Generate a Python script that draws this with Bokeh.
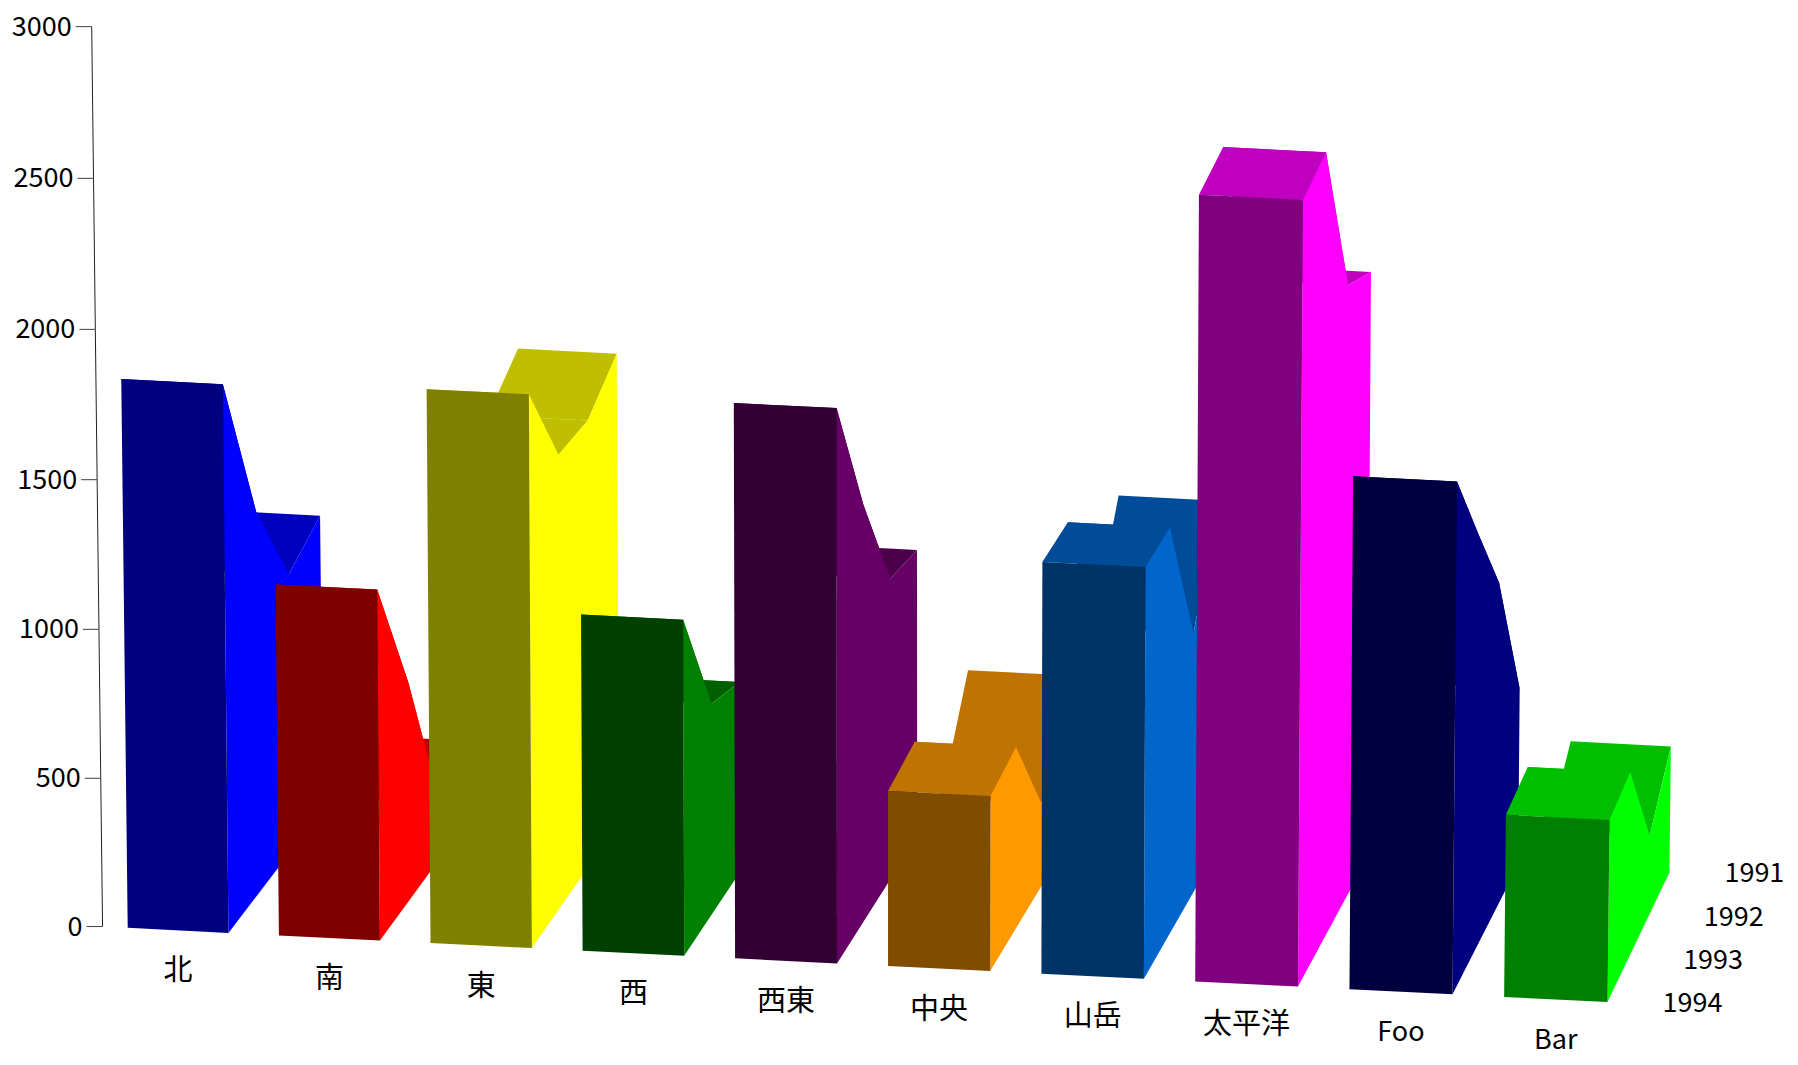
from bokeh.embed import file_html
from bokeh.resources import INLINE
from bokeh.plotting import figure
from bokeh.models import Range1d
from bokeh.core.properties import value

categories = ["北", "南", "東", "西", "西東", "中央", "山岳", "太平洋", "Foo", "Bar"]
years = ["1994", "1993", "1992", "1991"]
v1994 = [1839, 1180, 1856, 1130, 1861, 590, 1383, 2627, 1720, 614]
v1993 = [1277, 727, 1516, 708, 1399, 613, 1373, 2643, 1404, 629]
v1992 = [928, 180, 1491, 640, 1011, 280, 876, 2062, 1095, 270]
v1991 = [987, 253, 1575, 480, 966, 569, 1178, 1964, 595, 425]
series = [v1994, v1993, v1992, v1991]
y_ticks = [0, 500, 1000, 1500, 2000, 2500, 3000]
side_colors = ["#0000ff", "#ff0000", "#ffff00", "#008000", "#660066",
               "#ff9900", "#0066cc", "#ff00ff", "#000080", "#00ff00"]

SCALE = 1798 / 1568
FONT = "Noto Sans CJK JP"


def project(c, d, v):
    band = min(int(c), 9)
    xf = 89 + 131.6 * c + 0.19 * c * c
    yf = 807.6 + 0.0502 * (xf - 89)
    xb = 89 + 131.6 * (band + 0.833) + 0.19 * (band + 0.833) ** 2
    dx = 27.5 - (xb - 199) * 0.0079 + (5 / 6 - (c - band)) * 1.5
    dy = -36.0 - (xb - 199) * 0.0014
    lean = (xf - 774) * 4.6e-6 * v
    h = 0.258 * v + 1.2e-6 * v * v
    return (xf + d * dx + lean) * SCALE, (yf + d * dy - h) * SCALE


def shade(col, f):
    r, g, b = int(col[1:3], 16), int(col[3:5], 16), int(col[5:7], 16)
    return "#%02x%02x%02x" % (round(r * f), round(g * f), round(b * f))


p = figure(width=1790, height=1057, toolbar_location=None, output_backend="svg",
           x_range=Range1d(0, 1790), y_range=Range1d(1057, 0), min_border=0)
p.xaxis.visible = False
p.yaxis.visible = False
p.grid.visible = False
p.outline_line_color = None

xs, ys, fills = [], [], []


def face(pts, col):
    xs.append([q[0] for q in pts])
    ys.append([q[1] for q in pts])
    fills.append(col)


for i, col in enumerate(side_colors):
    cl, cr = i + 1 / 6, i + 5 / 6
    vals = [s[i] for s in series]
    for d in (2, 1, 0):
        a, b = vals[d], vals[d + 1]
        face([project(cl, d, a), project(cr, d, a), project(cr, d + 1, b), project(cl, d + 1, b)],
             shade(col, 0.75))
    face([project(cr, 0, 0)] + [project(cr, d, vals[d]) for d in range(4)] + [project(cr, 3, 0)], col)
    face([project(cl, 0, 0), project(cr, 0, 0), project(cr, 0, vals[0]), project(cl, 0, vals[0])],
         shade(col, 0.5))

p.patches(xs, ys, fill_color=fills, line_color=None)

# tilted value axis
ax = [project(0, 0, t) for t in y_ticks]
p.line([q[0] for q in ax], [q[1] for q in ax], line_color="#202020", line_width=1)
p.multi_line([[q[0] - 16, q[0]] for q in ax], [[q[1], q[1]] for q in ax],
             line_color="#404040", line_width=1)
p.text([q[0] - 20 for q in ax], [q[1] - 1 for q in ax], text=[str(t) for t in y_ticks],
       text_align="right", text_baseline="middle", text_font=value(FONT),
       text_font_size="27px", text_color="black")

# category labels
cp = [project(i + 0.5, 0, 0) for i in range(len(categories))]
cjk = [i for i, c in enumerate(categories) if ord(c[0]) > 255]
lat = [i for i, c in enumerate(categories) if ord(c[0]) <= 255]
p.text([cp[i][0] for i in cjk], [cp[i][1] + 37 for i in cjk], text=[categories[i] for i in cjk],
       text_align="center", text_baseline="middle", text_font=value(FONT),
       text_font_size="29px", text_color="black")
p.text([cp[i][0] for i in lat], [cp[i][1] + 38 for i in lat], text=[categories[i] for i in lat],
       text_align="center", text_baseline="middle", text_font=value(FONT),
       text_font_size="27px", text_color="black")

# depth labels
yp = [project(9.833, d, 0) for d in range(len(years))]
p.text([q[0] + 85 for q in yp], [q[1] for q in yp], text=years,
       text_align="center", text_baseline="middle", text_font=value(FONT),
       text_font_size="27px", text_color="black")

open("out.html", "w").write(file_html(p, INLINE))
